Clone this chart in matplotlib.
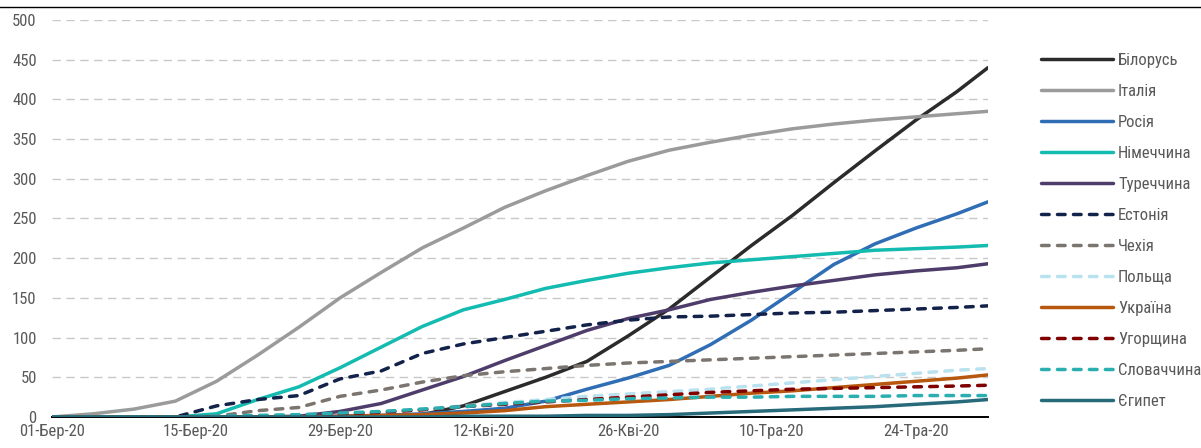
import matplotlib
matplotlib.use("Agg")
import matplotlib.pyplot as plt
import matplotlib.font_manager as fm
import pandas as pd
from matplotlib.lines import Line2D

# look for a narrow sans face (the original uses an Arial Narrow look)
narrow = None
for f in fm.fontManager.ttflist:
    if f.name in ('Liberation Sans Narrow', 'Arial Narrow', 'Roboto Condensed',
                  'Open Sans Condensed', 'Noto Sans Condensed', 'DejaVu Sans Condensed'):
        if f.weight in (400, 'normal', 'regular') and f.style == 'normal':
            narrow = f
            break
if narrow is None:
    for f in fm.fontManager.ttflist:
        if f.stretch in ('condensed', 'semi-condensed', 'extra-condensed', 500, 'semicondensed') \
                and f.style == 'normal' and f.weight in (400, 'normal', 'regular'):
            narrow = f
            break
if narrow is not None:
    fm.fontManager.addfont(narrow.fname)
    plt.rcParams['font.family'] = [narrow.name, 'DejaVu Sans']
    plt.rcParams['font.stretch'] = narrow.stretch
    fsize = 12
else:
    plt.rcParams['font.family'] = ['Liberation Sans', 'DejaVu Sans']
    fsize = 11

# dates (every 4 days, last point 31 May)
dates = pd.to_datetime([
    '2020-03-01', '2020-03-05', '2020-03-09', '2020-03-13', '2020-03-17', '2020-03-21',
    '2020-03-25', '2020-03-29', '2020-04-02', '2020-04-06', '2020-04-10', '2020-04-14',
    '2020-04-18', '2020-04-22', '2020-04-26', '2020-04-30', '2020-05-04', '2020-05-08',
    '2020-05-12', '2020-05-16', '2020-05-20', '2020-05-24', '2020-05-28', '2020-05-31',
])

belarus  = [0, 0, 0, 0, 0, 0, 0, 0, 1, 3, 14, 32, 50, 70, 102, 136, 176, 216, 254, 295, 335, 374, 410, 440]
italy    = [0, 4, 10, 20, 45, 78, 113, 150, 182, 213, 238, 264, 285, 304, 322, 336, 346, 355, 363, 369, 374, 378, 382, 385]
russia   = [0, 0, 0, 0, 0, 0, 0, 1, 2, 4, 7, 11, 20, 35, 49, 65, 91, 122, 157, 192, 218, 238, 256, 271]
germany  = [0, 0, 0, 0, 4, 22, 38, 62, 88, 114, 135, 148, 162, 172, 181, 188, 194, 198, 202, 206, 210, 212, 214, 216]
turkey   = [0, 0, 0, 0, 0, 0, 1, 7, 17, 34, 51, 71, 90, 109, 124, 135, 148, 157, 165, 172, 179, 184, 188, 193]
estonia  = [0, 0, 0, 0, 14, 22, 27, 48, 58, 80, 92, 100, 108, 116, 122, 126, 127, 129, 131, 132, 134, 136, 138, 140]
czechia  = [0, 0, 0, 0, 1, 8, 12, 26, 34, 44, 52, 57, 61, 65, 68, 70, 72, 74, 76, 78, 80, 82, 84, 86]
poland   = [0, 0, 0, 0, 0, 0, 1, 3, 6, 10, 14, 18, 22, 26, 29, 32, 35, 39, 43, 47, 51, 55, 59, 61]
ukraine  = [0, 0, 0, 0, 0, 0, 0, 1, 2, 3, 5, 8, 13, 16, 19, 22, 26, 30, 33, 37, 41, 45, 49, 53]
hungary  = [0, 0, 0, 0, 0, 1, 2, 4, 6, 9, 13, 16, 19, 22, 25, 28, 31, 33, 35, 36, 37, 38, 39, 40]
slovakia = [0, 0, 0, 0, 1, 2, 3, 5, 7, 10, 13, 17, 20, 21, 23, 24, 25, 25, 26, 26, 26, 27, 27, 27]
egypt    = [0, 0, 0, 0, 0, 0, 0, 0, 0, 0, 1, 1, 1, 2, 2, 3, 5, 7, 9, 11, 13, 16, 19, 22]

names = ['Білорусь', 'Італія', 'Росія', 'Німеччина', 'Туреччина', 'Естонія',
         'Чехія', 'Польща', 'Україна', 'Угорщина', 'Словаччина', 'Єгипет']
series = [belarus, italy, russia, germany, turkey, estonia,
          czechia, poland, ukraine, hungary, slovakia, egypt]
colors = ['#2b2b2b', '#9b9b9b', '#2f6db5', '#13bbb0', '#4e3d6a', '#13224a',
          '#7c756f', '#b9e2ee', '#b8570e', '#800000', '#2aaeb0', '#276b7b']
dashed = [False, False, False, False, False, True,
          True, True, False, True, True, False]

tick_dates = pd.to_datetime(['2020-03-01', '2020-03-15', '2020-03-29', '2020-04-12',
                             '2020-04-26', '2020-05-10', '2020-05-24'])
tick_labels = ['01-Бер-20', '15-Бер-20', '29-Бер-20', '12-Кві-20',
               '26-Кві-20', '10-Тра-20', '24-Тра-20']

fig = plt.figure(figsize=(12.01, 4.48), dpi=100)
ax = fig.add_axes([52 / 1201, 1 - 417 / 448, (988 - 52) / 1201, (417 - 20) / 448])

handles = []
for name, vals, c, d in zip(names, series, colors, dashed):
    ln, = ax.plot(dates, vals, color=c, lw=2.5, label=name,
                  solid_capstyle='round', solid_joinstyle='round')
    if d:
        ln.set_dashes((2.2, 2.4))
        ln.set_dash_capstyle('round')
    handles.append(ln)

ax.set_ylim(0, 500)
ax.set_xlim(dates[0], dates[-1])
ax.set_yticks(range(0, 501, 50))
ax.set_xticks(tick_dates)
ax.set_xticklabels(tick_labels)
ax.grid(axis='y', color='#c8c8c8', lw=1.0, dashes=(6, 4))
ax.set_axisbelow(True)

for s in ['top', 'right', 'left']:
    ax.spines[s].set_visible(False)
ax.spines['bottom'].set_color('black')
ax.spines['bottom'].set_linewidth(1.4)
ax.spines['bottom'].set_zorder(1)
ax.tick_params(axis='both', length=0, labelsize=fsize, labelcolor='#595959')
ax.tick_params(axis='y', pad=11)
ax.tick_params(axis='x', pad=5)

fpx = fsize * 100 / 72
fig.legend(handles=handles, loc='upper left', bbox_to_anchor=(1041 / 1201, 1 - 53 / 448),
           frameon=False, fontsize=fsize, labelcolor='#595959', handlelength=72 / fpx,
           handletextpad=5 / fpx, labelspacing=0.96, borderpad=0, borderaxespad=0)

# rule across the top of the figure
fig.add_artist(Line2D([0, 1], [1 - 7 / 448, 1 - 7 / 448], color='black', lw=1.0,
                      transform=fig.transFigure))

fig.savefig('out.png', dpi=100)
